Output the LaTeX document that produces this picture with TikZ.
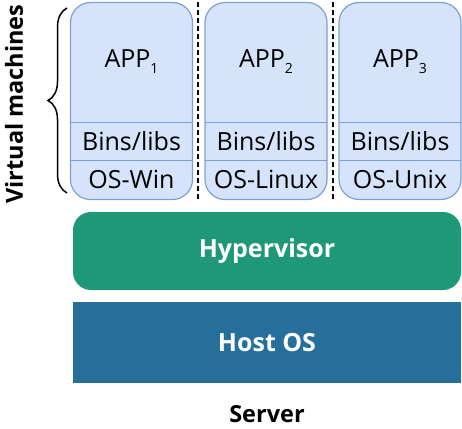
\documentclass[tikz,border=0pt]{standalone}
\usepackage{fontspec}
\setmainfont{Open Sans}
\usetikzlibrary{positioning,calc,decorations.pathreplacing}
\definecolor{vmfill}{HTML}{D5E4FB}
\definecolor{vmdraw}{HTML}{7F9FD3}
\definecolor{hypfill}{HTML}{1F9877}
\definecolor{hostfill}{HTML}{266F9B}
\tikzset{
vmnode/.style={rectangle, rounded corners=20pt, draw=vmdraw, fill=vmfill, line width=1.2pt, minimum width=122pt, minimum height=197pt, inner sep=0pt},
appnode/.style={rectangle, inner sep=0pt, minimum width=122pt, minimum height=120pt, font=\fontsize{25}{27}\selectfont},
layernode/.style={rectangle, inner sep=0pt, minimum width=122pt, minimum height=38pt, font=\fontsize{25}{27}\selectfont},
layerline/.style={draw=vmdraw, line width=1.2pt},
sepline/.style={draw=black, line width=1.3pt, dash pattern=on 5pt off 3pt},
hypnode/.style={rectangle, rounded corners=18pt, fill=hypfill, text=white, minimum width=388pt, minimum height=78pt, font=\bfseries\fontsize{25}{27}\selectfont},
hostnode/.style={rectangle, fill=hostfill, text=white, minimum width=388pt, minimum height=81pt, font=\bfseries\fontsize{25}{27}\selectfont}
}
\newcommand{\appsub}[1]{APP\raisebox{-0.45ex}{\fontsize{14}{14}\selectfont#1}}
\begin{document}
\begin{tikzpicture}[x=1pt, y=-1pt]
\useasboundingbox (0,0) rectangle (462,428);

%Virtual machines
\node[vmnode] (vm1) at(131.5,101) {};
\node[vmnode] (vm2) at(266,101) {};
\node[vmnode] (vm3) at(400,101) {};

\node[appnode] (app1) at(131.5,62) {\appsub{1}};
\node[appnode] (app2) at(266,62) {\appsub{2}};
\node[appnode] (app3) at(400,62) {\appsub{3}};

\node[layernode, below=0pt of app1] (bins1) {Bins/libs};
\node[layernode, below=0pt of app2] (bins2) {Bins/libs};
\node[layernode, below=0pt of app3] (bins3) {Bins/libs};

\node[layernode, below=0pt of bins1] (os1) {OS-Win};
\node[layernode, below=0pt of bins2] (os2) {OS-Linux};
\node[layernode, below=0pt of bins3] (os3) {OS-Unix};

\foreach \i in {1,2,3} {
  \draw[layerline] (bins\i.north west) -- (bins\i.north east);
  \draw[layerline] (os\i.north west) -- (os\i.north east);
}

% separators between the machines
\coordinate (sep1top) at(198,2);
\coordinate (sep1bot) at(198,200);
\coordinate (sep2top) at(333,2);
\coordinate (sep2bot) at(333,200);
\draw[sepline] (sep1top) -- (sep1bot);
\draw[sepline] (sep2top) -- (sep2bot);

% brace and label
\coordinate (bracetop) at(67,8);
\coordinate (bracebot) at(67,193);
\draw[line width=1.5pt, decorate, decoration={brace, amplitude=19pt}] (bracebot) -- (bracetop);
\node[rotate=90, font=\bfseries\fontsize{23.5}{25}\selectfont] (vmlabel) at(14,104) {Virtual machines};

%Server layers
\node[hypnode] (hyper) at(267,251) {Hypervisor};
\node[hostnode] (host) at(267,342.5) {Host OS};
\node[font=\bfseries\fontsize{23.5}{25}\selectfont] (server) at(267,414) {Server};
\end{tikzpicture}
\end{document}
